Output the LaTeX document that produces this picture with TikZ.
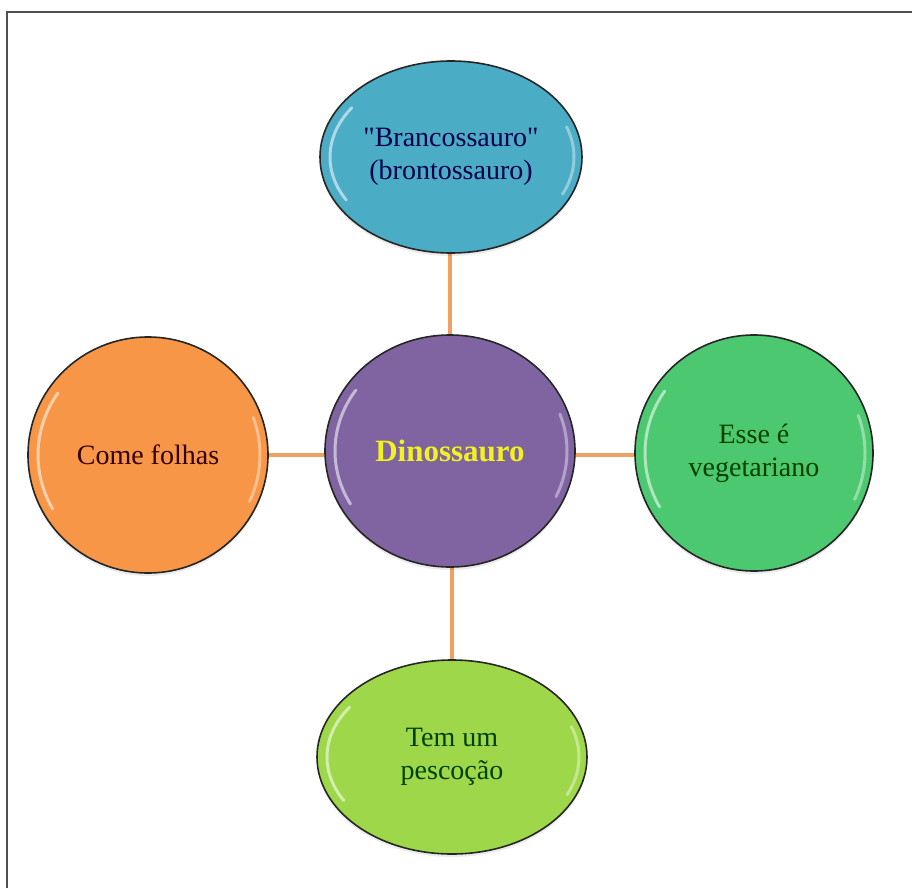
\documentclass[tikz,border=0pt]{standalone}
\usepackage{fontspec}
\setmainfont{Liberation Serif}[Ligatures=TeXOff]
\usetikzlibrary{shapes.geometric}
\definecolor{cblue}{HTML}{4BACC6}
\definecolor{cpurple}{HTML}{8064A2}
\definecolor{corange}{HTML}{F79646}
\definecolor{cgreen}{HTML}{4CC870}
\definecolor{clime}{HTML}{9ED84A}
\definecolor{link}{HTML}{F0A060}
\definecolor{frame}{HTML}{505050}
\definecolor{dino}{HTML}{F2F21E}
\tikzset{
  bubble/.style={ellipse, draw=black!85, line width=1.6pt, align=center,
    inner sep=0pt, font=\fontsize{28}{33}\selectfont},
  connector/.style={draw=link, line width=4pt},
  gloss/.style={draw=white, opacity=0.55, line width=3pt, line cap=round}
}
\begin{document}
\begin{tikzpicture}[x=1pt,y=-1pt]
\useasboundingbox (0,0) rectangle (912,888);
\fill[white] (0,0) rectangle (912,888);
% frame (partly visible)
\draw[frame, line width=2pt] (7,888) -- (7,12) -- (912,12);

% connectors
\coordinate (tb) at (450,250);
\coordinate (ct) at (450,340);
\coordinate (cb) at (452,562);
\coordinate (bt) at (452,665);
\coordinate (lr) at (262,455);
\coordinate (cl) at (330,455);
\coordinate (cr) at (570,455);
\coordinate (rl) at (640,455);
\draw[connector] (tb) -- (ct);
\draw[connector] (cb) -- (bt);
\draw[connector] (lr) -- (cl);
\draw[connector] (cr) -- (rl);

% shadows
\foreach \x/\y/\rx/\ry in {451/160/131/96, 450/454/125/116, 148/458/120/118, 754/456/119/118, 452/760/135/97}
  \fill[black, opacity=0.08] (\x,\y) ellipse ({\rx} and {\ry});

% nodes
\node[bubble, fill=cblue, minimum width=262pt, minimum height=192pt,
  text=black!70!blue] (top) at (451,157) {"Brancossauro"\\(brontossauro)};
\node[bubble, fill=cpurple, minimum width=250pt, minimum height=232pt,
  text=dino, font=\fontsize{31}{33}\selectfont\bfseries] (center) at (450,451) {Dinossauro};
\node[bubble, fill=corange, minimum width=240pt, minimum height=236pt,
  text=black!80!red] (left) at (148,455) {Come folhas};
\node[bubble, fill=cgreen, minimum width=238pt, minimum height=236pt,
  text=black!75!green] (right) at (754,453) {Esse é\\vegetariano};
\node[bubble, fill=clime, minimum width=270pt, minimum height=194pt,
  text=black!75!green] (bottom) at (452,757) {Tem um\\pescoção};

% gloss highlights
\foreach \n/\rx/\ry in {top/131/96, center/125/116, left/120/118, right/119/118, bottom/135/97} {
  \draw[gloss] (\n.center) ++(150:{\rx-10} and {\ry-10}) arc[start angle=150, end angle=215, x radius={\rx-10}, y radius={\ry-10}];
  \draw[gloss, opacity=0.4] (\n.center) ++(-20:{\rx-8} and {\ry-8}) arc[start angle=-20, end angle=25, x radius={\rx-8}, y radius={\ry-8}];
}
\end{tikzpicture}
\end{document}
